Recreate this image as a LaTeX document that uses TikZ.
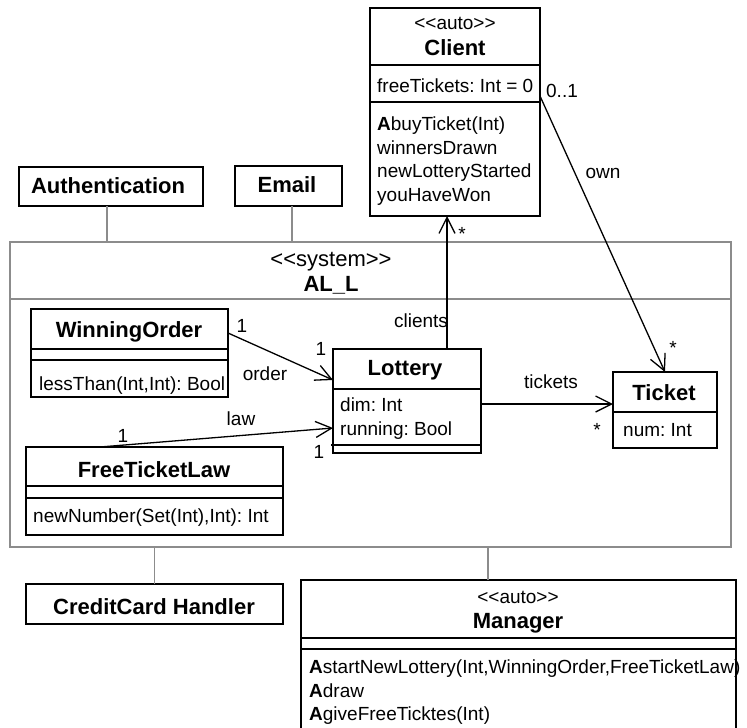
\documentclass[tikz,border=0pt]{standalone}
\usepackage{fontspec}
\setmainfont{Liberation Sans}
\usetikzlibrary{arrows.meta}
\newcommand{\stO}{<\kern0pt<}
\newcommand{\stC}{>\kern0pt>}
\frenchspacing
\begin{document}
\frenchspacing
\begin{tikzpicture}[x=1pt,y=-1pt,
  box/.style={draw,line width=1.4pt,anchor=north west,inner sep=0pt,outer sep=0pt},
  sysbox/.style={draw=black!45,line width=1.8pt,anchor=north west,inner sep=0pt,outer sep=0pt},
  div/.style={line width=1.4pt},
  sysdiv/.style={draw=black!45,line width=1.6pt},
  reg/.style={font=\fontsize{19}{22}\selectfont,inner sep=0pt,anchor=base},
  regl/.style={reg,anchor=base west},
  ttl/.style={font=\fontsize{22}{26}\selectfont\bfseries,inner sep=0pt,anchor=base},
  sysst/.style={font=\fontsize{22}{26}\selectfont,inner sep=0pt,anchor=base},
  assoc/.style={draw,line width=1.3pt,-{Straight Barb[length=16pt,width=16pt]}},
  dep/.style={draw=black!45,line width=1.6pt}]
\useasboundingbox (0,0) rectangle (747,728);

% ---------- boxes ----------
\node[box,minimum width=170pt,minimum height=208pt] (client) at (370,8) {};
\node[box,minimum width=184pt,minimum height=39pt] (auth) at (19,167) {};
\node[box,minimum width=107pt,minimum height=40pt] (email) at (235,166) {};
\node[sysbox,minimum width=721pt,minimum height=305pt] (sys) at (10,242) {};
\node[box,minimum width=197pt,minimum height=88pt] (wo) at (31,309) {};
\node[box,minimum width=257pt,minimum height=88pt] (ftl) at (26,447) {};
\node[box,minimum width=148pt,minimum height=104pt] (lottery) at (333,349) {};
\node[box,minimum width=104pt,minimum height=76pt] (ticket) at (613,372) {};
\node[box,minimum width=257pt,minimum height=40pt] (cch) at (26,584) {};
\node[box,minimum width=435pt,minimum height=165pt] (manager) at (301,580) {};

% ---------- compartment lines ----------
\draw[div] (370,65) -- (540,65);
\draw[div] (370,102) -- (540,102);
\draw[sysdiv] (10,299) -- (731,299);
\draw[div] (31,349) -- (228,349);
\draw[div] (31,360) -- (228,360);
\draw[div] (26,486) -- (283,486);
\draw[div] (26,498) -- (283,498);
\draw[div] (333,389) -- (481,389);
\draw[div] (331,445) -- (481,445);
\draw[div] (613,412) -- (717,412);
\draw[div] (301,638) -- (736,638);
\draw[div] (301,649) -- (736,649);

% ---------- texts ----------
\node[reg] (clst) at (455,29) {\stO auto\stC};
\node[ttl] (clnm) at (455,55) {Client};
\node[regl] (clat) at (377,92) {freeTickets: Int = 0};
\node[regl] (clo1) at (377,130) {{\bfseries A}buyTicket(Int)};
\node[regl] (clo2) at (377,154) {winnersDrawn};
\node[regl] (clo3) at (377,177) {newLotteryStarted};
\node[regl] (clo4) at (377,201) {youHaveWon};

\node[ttl] (authnm) at (108,193) {Authentication};
\node[ttl] (emailnm) at (287,192) {Email};

\node[sysst] (sysst) at (331,266) {\stO system\stC};
\node[ttl] (sysnm) at (331,291) {AL\_L};

\node[ttl] (wonm) at (129,337) {WinningOrder};
\node[regl] (woop) at (39,390) {lessThan(Int,Int): Bool};

\node[ttl] (ftlnm) at (154,477) {FreeTicketLaw};
\node[regl] (ftlop) at (33,522) {newNumber(Set(Int),Int): Int};

\node[ttl] (lotnm) at (405,375) {Lottery};
\node[regl] (lota1) at (340,411) {dim: Int};
\node[regl] (lota2) at (340,435) {running: Bool};

\node[ttl] (ticnm) at (664,400) {Ticket};
\node[regl] (tica) at (623,436) {num: Int};

\node[ttl] (cchnm) at (154,614) {CreditCard Handler};

\node[reg] (mgst) at (518,603) {\stO auto\stC};
\node[ttl] (mgnm) at (518,628) {Manager};
\node[regl] (mgo1) at (309,673) {{\bfseries A}startNewLottery(Int,WinningOrder,FreeTicketLaw)};
\node[regl] (mgo2) at (309,697) {{\bfseries A}draw};
\node[regl] (mgo3) at (309,720) {{\bfseries A}giveFreeTicktes(Int)};

% ---------- dependency lines (gray) ----------
\draw[dep] ([xshift=-4pt]auth.south) -- ([xshift=-4pt]auth.south |- sys.north);
\draw[dep] ([xshift=3.5pt]email.south) -- ([xshift=3.5pt]email.south |- sys.north);
\draw[dep] (cch.north) -- (cch.north |- sys.south);
\draw[dep] ([xshift=-30.5pt]manager.north) -- ([xshift=-30.5pt]manager.north |- sys.south);

% ---------- associations ----------
\draw[assoc] ([xshift=40pt]lottery.north) -- ([xshift=40pt]lottery.north |- client.south);
\draw[assoc] ([yshift=16pt]client.east) -- (ticket.north);
\draw[assoc] ([yshift=-3pt]lottery.east) -- ([yshift=-3pt]lottery.east -| ticket.west);
\draw[assoc] ([yshift=20pt]wo.east) -- ([yshift=21pt]lottery.west);
\draw[assoc] ([xshift=-54.5pt]ftl.north) -- ([yshift=-27pt]lottery.west);

% ---------- association labels ----------
\node[reg] (lclients) at (421,327) {clients};
\node[reg] (lclstar) at (462,240) {*};
\node[reg] (l01) at (562,97) {0..1};
\node[reg] (lown) at (603,178) {own};
\node[reg] (ltstar1) at (673,354) {*};
\node[reg] (ltickets) at (551,388) {tickets};
\node[reg] (ltstar2) at (597,436) {*};
\node[reg] (lorder) at (265,380) {order};
\node[reg] (lwo1) at (242,332) {1};
\node[reg] (llot1) at (321,355) {1};
\node[reg] (llaw) at (241,425) {law};
\node[reg] (lftl1) at (123,442) {1};
\node[reg] (llot2) at (319,458) {1};
\end{tikzpicture}
\end{document}
